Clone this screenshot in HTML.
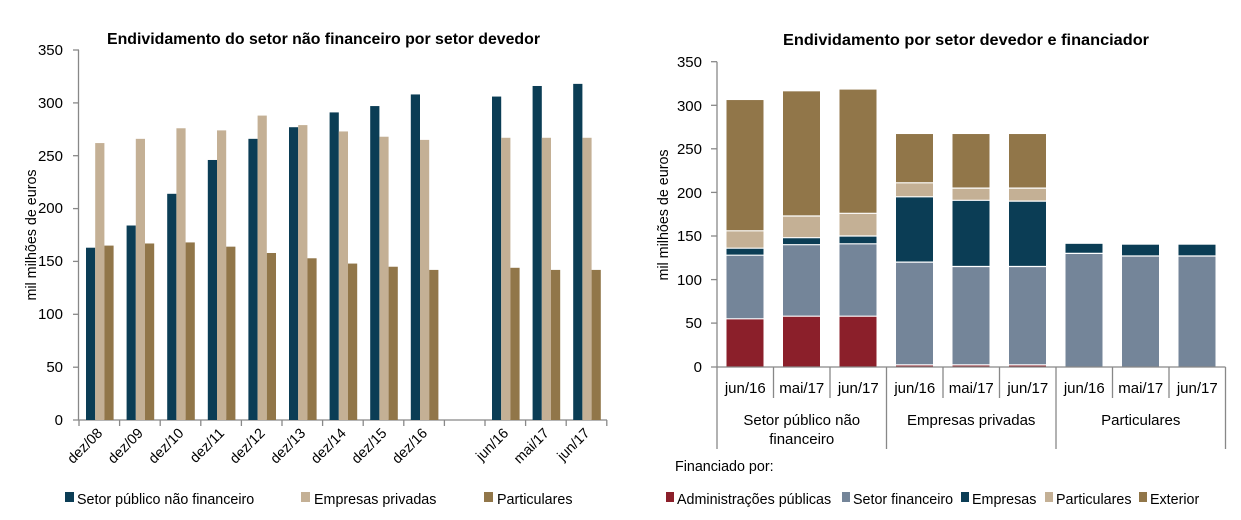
<!DOCTYPE html>
<html><head><meta charset="utf-8"><style>
body{margin:0;background:#fff;}
svg{display:block;font-family:"Liberation Sans",Arial,sans-serif;}
.t{font-size:14.3px;fill:#000}
.y{font-size:15px;fill:#000}
.ttl{font-size:16px;font-weight:bold}
</style></head><body>
<svg width="1241" height="520" viewBox="0 0 1241 520">
<!-- LEFT CHART -->
<text class="ttl" x="107" y="44" textLength="433" lengthAdjust="spacingAndGlyphs">Endividamento do setor não financeiro por setor devedor</text>
<g class="y" text-anchor="end">
<text x="63" y="425">0</text><text x="63" y="372">50</text><text x="63" y="319">100</text><text x="63" y="266">150</text><text x="63" y="213">200</text><text x="63" y="161">250</text><text x="63" y="108">300</text><text x="63" y="55">350</text>
</g>
<text class="t" transform="translate(36,235) rotate(-90)" text-anchor="middle">mil milhões de euros</text>
<g stroke="#888" stroke-width="1.3">
<line x1="78.5" y1="50" x2="78.5" y2="420"/>
<line x1="73" y1="420" x2="607" y2="420"/>
<line x1="73" y1="367.2" x2="79" y2="367.2"/><line x1="73" y1="314.3" x2="79" y2="314.3"/><line x1="73" y1="261.4" x2="79" y2="261.4"/><line x1="73" y1="208.6" x2="79" y2="208.6"/><line x1="73" y1="155.7" x2="79" y2="155.7"/><line x1="73" y1="102.9" x2="79" y2="102.9"/><line x1="73" y1="50" x2="79" y2="50"/>
<line x1="79" y1="420" x2="79" y2="426"/><line x1="119.6" y1="420" x2="119.6" y2="426"/><line x1="160.2" y1="420" x2="160.2" y2="426"/><line x1="200.8" y1="420" x2="200.8" y2="426"/><line x1="241.4" y1="420" x2="241.4" y2="426"/><line x1="282" y1="420" x2="282" y2="426"/><line x1="322.6" y1="420" x2="322.6" y2="426"/><line x1="363.2" y1="420" x2="363.2" y2="426"/><line x1="403.8" y1="420" x2="403.8" y2="426"/><line x1="444.4" y1="420" x2="444.4" y2="426"/><line x1="485" y1="420" x2="485" y2="426"/><line x1="525.6" y1="420" x2="525.6" y2="426"/><line x1="566.2" y1="420" x2="566.2" y2="426"/><line x1="606.8" y1="420" x2="606.8" y2="426"/>
</g>
<g transform="translate(0,420) scale(1,-1.057)">
<g fill="#0b3d55">
<rect x="86" y="0" width="9.2" height="163"/><rect x="126.6" y="0" width="9.2" height="184"/><rect x="167.2" y="0" width="9.2" height="214"/><rect x="207.8" y="0" width="9.2" height="246"/><rect x="248.4" y="0" width="9.2" height="266"/><rect x="289" y="0" width="9.2" height="277"/><rect x="329.6" y="0" width="9.2" height="291"/><rect x="370.2" y="0" width="9.2" height="297"/><rect x="410.8" y="0" width="9.2" height="308"/><rect x="492" y="0" width="9.2" height="306"/><rect x="532.6" y="0" width="9.2" height="316"/><rect x="573.2" y="0" width="9.2" height="318"/>
</g>
<g fill="#c4b095">
<rect x="95.2" y="0" width="9.2" height="262"/><rect x="135.8" y="0" width="9.2" height="266"/><rect x="176.4" y="0" width="9.2" height="276"/><rect x="217" y="0" width="9.2" height="274"/><rect x="257.6" y="0" width="9.2" height="288"/><rect x="298.2" y="0" width="9.2" height="279"/><rect x="338.8" y="0" width="9.2" height="273"/><rect x="379.4" y="0" width="9.2" height="268"/><rect x="420" y="0" width="9.2" height="265"/><rect x="501.2" y="0" width="9.2" height="267"/><rect x="541.8" y="0" width="9.2" height="267"/><rect x="582.4" y="0" width="9.2" height="267"/>
</g>
<g fill="#917649">
<rect x="104.4" y="0" width="9.2" height="165"/><rect x="145" y="0" width="9.2" height="167"/><rect x="185.6" y="0" width="9.2" height="168"/><rect x="226.2" y="0" width="9.2" height="164"/><rect x="266.8" y="0" width="9.2" height="158"/><rect x="307.4" y="0" width="9.2" height="153"/><rect x="348" y="0" width="9.2" height="148"/><rect x="388.6" y="0" width="9.2" height="145"/><rect x="429.2" y="0" width="9.2" height="142"/><rect x="510.4" y="0" width="9.2" height="144"/><rect x="551" y="0" width="9.2" height="142"/><rect x="591.6" y="0" width="9.2" height="142"/>
</g>
</g>
<g class="t" text-anchor="end">
<text transform="translate(103.3,434) rotate(-45)">dez/08</text>
<text transform="translate(143.9,434) rotate(-45)">dez/09</text>
<text transform="translate(184.5,434) rotate(-45)">dez/10</text>
<text transform="translate(225.1,434) rotate(-45)">dez/11</text>
<text transform="translate(265.7,434) rotate(-45)">dez/12</text>
<text transform="translate(306.3,434) rotate(-45)">dez/13</text>
<text transform="translate(346.9,434) rotate(-45)">dez/14</text>
<text transform="translate(387.5,434) rotate(-45)">dez/15</text>
<text transform="translate(428.1,434) rotate(-45)">dez/16</text>
<text transform="translate(509.3,434) rotate(-45)">jun/16</text>
<text transform="translate(549.9,434) rotate(-45)">mai/17</text>
<text transform="translate(590.5,434) rotate(-45)">jun/17</text>
</g>
<rect x="65" y="492" width="9" height="10" fill="#0b3d55"/><text class="t" x="77" y="504">Setor público não financeiro</text>
<rect x="301" y="492" width="9" height="10" fill="#c4b095"/><text class="t" x="314" y="504">Empresas privadas</text>
<rect x="484" y="492" width="9" height="10" fill="#917649"/><text class="t" x="497" y="504">Particulares</text>

<!-- RIGHT CHART -->
<text class="ttl" x="783" y="45" textLength="366" lengthAdjust="spacingAndGlyphs">Endividamento por setor devedor e financiador</text>
<g class="y" text-anchor="end">
<text x="702" y="372">0</text><text x="702" y="328">50</text><text x="702" y="285">100</text><text x="702" y="241">150</text><text x="702" y="198">200</text><text x="702" y="154">250</text><text x="702" y="111">300</text><text x="702" y="67">350</text>
</g>
<text class="t" transform="translate(668,215) rotate(-90)" text-anchor="middle">mil milhões de euros</text>
<g transform="translate(0,366.7) scale(1,-0.8714)">
<rect x="726.5" y="0" width="37" height="55" fill="#8b1f2a"/>
<rect x="726.5" y="55" width="37" height="73" fill="#748599"/>
<rect x="726.5" y="128" width="37" height="8" fill="#0b3d55"/>
<rect x="726.5" y="136" width="37" height="20" fill="#c4b095"/>
<rect x="726.5" y="156" width="37" height="150" fill="#917649"/>

<rect x="783" y="0" width="37" height="58" fill="#8b1f2a"/>
<rect x="783" y="58" width="37" height="82" fill="#748599"/>
<rect x="783" y="140" width="37" height="8" fill="#0b3d55"/>
<rect x="783" y="148" width="37" height="25" fill="#c4b095"/>
<rect x="783" y="173" width="37" height="143" fill="#917649"/>

<rect x="839.5" y="0" width="37" height="58" fill="#8b1f2a"/>
<rect x="839.5" y="58" width="37" height="83" fill="#748599"/>
<rect x="839.5" y="141" width="37" height="9" fill="#0b3d55"/>
<rect x="839.5" y="150" width="37" height="26" fill="#c4b095"/>
<rect x="839.5" y="176" width="37" height="142" fill="#917649"/>

<rect x="896" y="0" width="37" height="2" fill="#8b1f2a"/>
<rect x="896" y="2" width="37" height="118" fill="#748599"/>
<rect x="896" y="120" width="37" height="75" fill="#0b3d55"/>
<rect x="896" y="195" width="37" height="16" fill="#c4b095"/>
<rect x="896" y="211" width="37" height="56" fill="#917649"/>

<rect x="952.5" y="0" width="37" height="2" fill="#8b1f2a"/>
<rect x="952.5" y="2" width="37" height="113" fill="#748599"/>
<rect x="952.5" y="115" width="37" height="76" fill="#0b3d55"/>
<rect x="952.5" y="191" width="37" height="14" fill="#c4b095"/>
<rect x="952.5" y="205" width="37" height="62" fill="#917649"/>

<rect x="1009" y="0" width="37" height="2" fill="#8b1f2a"/>
<rect x="1009" y="2" width="37" height="113" fill="#748599"/>
<rect x="1009" y="115" width="37" height="75" fill="#0b3d55"/>
<rect x="1009" y="190" width="37" height="15" fill="#c4b095"/>
<rect x="1009" y="205" width="37" height="62" fill="#917649"/>

<rect x="1065.5" y="0" width="37" height="130" fill="#748599"/>
<rect x="1065.5" y="130" width="37" height="11" fill="#0b3d55"/>

<rect x="1122" y="0" width="37" height="127" fill="#748599"/>
<rect x="1122" y="127" width="37" height="13" fill="#0b3d55"/>

<rect x="1178.5" y="0" width="37" height="127" fill="#748599"/>
<rect x="1178.5" y="127" width="37" height="13" fill="#0b3d55"/>
</g>
<!-- white separators -->
<g stroke="#fff" stroke-width="1.2">
<line x1="726.5" y1="318.8" x2="763.5" y2="318.8"/><line x1="726.5" y1="255.2" x2="763.5" y2="255.2"/><line x1="726.5" y1="248.2" x2="763.5" y2="248.2"/><line x1="726.5" y1="230.8" x2="763.5" y2="230.8"/>
<line x1="783" y1="316.2" x2="820" y2="316.2"/><line x1="783" y1="244.7" x2="820" y2="244.7"/><line x1="783" y1="237.7" x2="820" y2="237.7"/><line x1="783" y1="216" x2="820" y2="216"/>
<line x1="839.5" y1="316.2" x2="876.5" y2="316.2"/><line x1="839.5" y1="243.8" x2="876.5" y2="243.8"/><line x1="839.5" y1="236" x2="876.5" y2="236"/><line x1="839.5" y1="213.3" x2="876.5" y2="213.3"/>
<line x1="896" y1="364.9" x2="933" y2="364.9"/><line x1="896" y1="262.1" x2="933" y2="262.1"/><line x1="896" y1="196.8" x2="933" y2="196.8"/><line x1="896" y1="182.8" x2="933" y2="182.8"/>
<line x1="952.5" y1="364.9" x2="989.5" y2="364.9"/><line x1="952.5" y1="266.5" x2="989.5" y2="266.5"/><line x1="952.5" y1="200.3" x2="989.5" y2="200.3"/><line x1="952.5" y1="188.1" x2="989.5" y2="188.1"/>
<line x1="1009" y1="364.9" x2="1046" y2="364.9"/><line x1="1009" y1="266.5" x2="1046" y2="266.5"/><line x1="1009" y1="201.1" x2="1046" y2="201.1"/><line x1="1009" y1="188.1" x2="1046" y2="188.1"/>
<line x1="1065.5" y1="253.4" x2="1102.5" y2="253.4"/>
<line x1="1122" y1="256" x2="1159" y2="256"/>
<line x1="1178.5" y1="256" x2="1215.5" y2="256"/>
</g>
<g stroke="#888" stroke-width="1.3">
<line x1="717" y1="61.7" x2="717" y2="367"/>
<line x1="711" y1="367" x2="1225.5" y2="367"/>
<line x1="711" y1="323.1" x2="717" y2="323.1"/><line x1="711" y1="279.6" x2="717" y2="279.6"/><line x1="711" y1="236" x2="717" y2="236"/><line x1="711" y1="192.4" x2="717" y2="192.4"/><line x1="711" y1="148.8" x2="717" y2="148.8"/><line x1="711" y1="105.3" x2="717" y2="105.3"/><line x1="711" y1="61.7" x2="717" y2="61.7"/>
<line x1="717" y1="367" x2="717" y2="449"/>
<line x1="773.5" y1="367" x2="773.5" y2="398"/>
<line x1="830" y1="367" x2="830" y2="398"/>
<line x1="886.5" y1="367" x2="886.5" y2="449"/>
<line x1="943" y1="367" x2="943" y2="398"/>
<line x1="999.5" y1="367" x2="999.5" y2="398"/>
<line x1="1056" y1="367" x2="1056" y2="449"/>
<line x1="1112.5" y1="367" x2="1112.5" y2="398"/>
<line x1="1169" y1="367" x2="1169" y2="398"/>
<line x1="1225.5" y1="367" x2="1225.5" y2="449"/>
</g>
<g class="y" text-anchor="middle">
<text x="745.25" y="393">jun/16</text><text x="801.75" y="393">mai/17</text><text x="858.25" y="393">jun/17</text>
<text x="914.75" y="393">jun/16</text><text x="971.25" y="393">mai/17</text><text x="1027.75" y="393">jun/17</text>
<text x="1084.25" y="393">jun/16</text><text x="1140.75" y="393">mai/17</text><text x="1197.25" y="393">jun/17</text>
<text x="801.75" y="425">Setor público não</text><text x="801.75" y="444">financeiro</text>
<text x="971.25" y="425">Empresas privadas</text>
<text x="1140.75" y="425">Particulares</text>
</g>
<text class="t" x="675" y="471">Financiado por:</text>
<rect x="666" y="492" width="8" height="10" fill="#8b1f2a"/><text class="t" x="677" y="504">Administrações públicas</text>
<rect x="842" y="492" width="8" height="10" fill="#748599"/><text class="t" x="853" y="504">Setor financeiro</text>
<rect x="961" y="492" width="8" height="10" fill="#0b3d55"/><text class="t" x="972" y="504">Empresas</text>
<rect x="1045" y="492" width="8" height="10" fill="#c4b095"/><text class="t" x="1056" y="504">Particulares</text>
<rect x="1139" y="492" width="8" height="10" fill="#917649"/><text class="t" x="1150" y="504">Exterior</text>
</svg>
</body></html>
